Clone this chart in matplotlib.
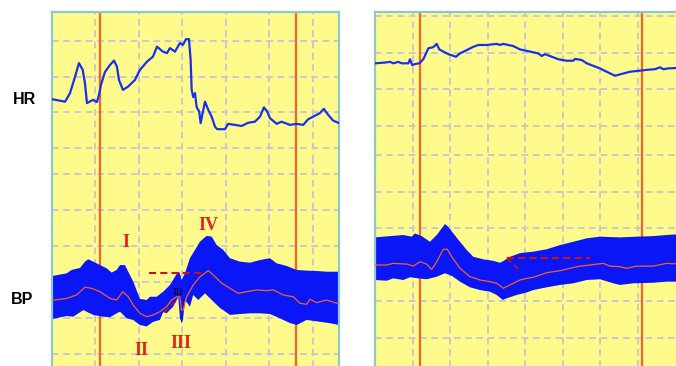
import matplotlib
matplotlib.use("Agg")
import matplotlib.pyplot as plt
import numpy as np

# ---------------- data ----------------
# Left recording (time in s, HR in bpm, BP in mmHg)
hr_left_t = [0, 1.5, 2.07, 2.64, 3.10, 3.53, 3.79, 4.02, 4.71, 5.17, 5.40, 5.63, 6.09, 6.67, 7.13,
             7.47, 7.70, 8.16, 8.74, 9.54, 10.11, 10.92, 11.61, 12.07, 12.76, 13.22, 13.56, 14.14,
             14.71, 15.06, 15.40, 15.75, 15.94, 16.06, 16.24, 16.44, 16.63, 16.93, 17.09, 17.32,
             17.59, 17.97, 18.36, 18.74, 19.00, 19.89, 20.26, 21.03, 21.80, 22.56, 23.33, 23.91,
             24.37, 24.75, 25.06, 25.83, 26.40, 27.36, 28.13, 28.89, 29.46, 30.03, 30.80, 31.26,
             31.76, 32.33, 32.91]
hr_left = [83.7, 83.0, 85.4, 89.9, 93.8, 91.9, 88.2, 82.6, 83.5, 82.9, 84.9, 87.7, 91.3, 93.3, 94.5,
           92.8, 89.1, 86.3, 87.2, 89.1, 91.9, 94.2, 95.6, 98.4, 97.0, 96.6, 98.0, 97.0, 99.4, 98.9,
           100.5, 100.5, 94.7, 86.3, 84.3, 85.4, 81.5, 80.2, 77.0, 79.8, 83.0, 80.7, 78.8, 76.0,
           75.3, 75.3, 76.8, 76.5, 76.2, 77.1, 77.4, 78.8, 81.4, 80.2, 78.4, 76.8, 77.4, 76.5, 76.8,
           76.5, 78.1, 78.8, 79.8, 81.0, 79.3, 77.7, 77.1]

bp_up_left_t = [0, 1.69, 2.26, 3.22, 3.79, 4.17, 4.75, 5.52, 6.29, 6.86, 7.44, 7.82, 8.39, 8.77,
                9.34, 10.11, 10.89, 11.26, 12.03, 12.79, 13.56, 14.33, 14.63, 14.91, 15.29, 15.86,
                16.44, 17.01, 17.78, 18.36, 18.93, 19.69, 20.46, 21.61, 22.76, 23.91, 25.06, 25.83,
                26.98, 28.13, 29.28, 30.43, 31.57, 33.0]
bp_up_left = [83.3, 84.8, 86.7, 87.8, 91.3, 92.6, 91.3, 89.4, 87.6, 85.2, 86.7, 89.4, 89.4, 85.7,
              80.2, 70.6, 70.0, 71.8, 71.8, 74.6, 78.3, 84.4, 85.7, 81.1, 84.8, 93.2, 97.8, 102.4,
              105.6, 105.2, 100.6, 97.8, 93.2, 91.3, 90.7, 92.2, 93.2, 90.4, 88.9, 86.7, 86.3, 86.1,
              85.7, 85.7]

bp_lo_left_t = [0, 1.69, 2.45, 3.60, 4.75, 5.90, 6.67, 7.44, 7.82, 8.59, 9.34, 10.11, 10.89, 11.64,
                12.41, 12.79, 13.18, 13.94, 14.52, 14.71, 14.91, 15.06, 15.29, 15.86, 16.24, 16.82,
                17.59, 18.36, 19.31, 20.46, 21.61, 22.76, 23.91, 25.06, 26.21, 27.36, 28.13, 29.28,
                30.80, 31.95, 33.0]
bp_lo_left = [59.4, 61.1, 60.7, 64.4, 61.7, 60.7, 60.4, 62.6, 63.5, 59.8, 58.9, 56.1, 55.3, 57.9,
              58.9, 63.3, 62.6, 66.3, 71.7, 60.0, 57.1, 58.9, 70.0, 66.3, 72.8, 70.0, 73.7, 70.0,
              65.6, 61.7, 62.2, 62.6, 62.6, 62.2, 59.8, 57.2, 56.1, 58.9, 57.9, 57.1, 56.1]

bp_mean_left_t = [0, 0.34, 1.69, 2.84, 3.79, 4.56, 5.52, 6.67, 7.44, 8.13, 8.77, 9.34, 10.11, 10.89,
                  11.64, 12.41, 13.18, 13.76, 14.33, 14.71, 14.89, 15.09, 15.48, 16.24, 17.01,
                  17.97, 18.54, 19.51, 20.46, 21.41, 22.38, 23.53, 24.68, 25.44, 26.59, 27.74,
                  28.51, 29.28, 29.66, 30.43, 31.57, 32.72, 33.0]
bp_mean_left = [69.4, 70.0, 70.9, 72.8, 77.1, 76.5, 74.6, 70.9, 70.0, 74.6, 71.8, 67.2, 62.6, 60.7,
                61.7, 63.5, 66.3, 70.0, 71.8, 71.7, 64.4, 64.4, 71.8, 78.3, 82.9, 86.3, 83.9, 79.3,
                76.5, 73.7, 74.6, 75.6, 75.2, 75.6, 72.8, 71.8, 68.2, 67.6, 70.4, 68.5, 70.0, 68.2,
                68.5]

# Right recording
hr_right_t = [0, 1.33, 2.0, 2.44, 3.11, 3.56, 4.44, 4.67, 4.97, 5.33, 5.91, 6.44, 6.8, 7.11, 7.77,
              8.23, 8.57, 9.11, 9.77, 10.8, 11.33, 12.23, 13.11, 13.77, 14.89, 16.23, 16.67, 17.11,
              18.44, 19.33, 20.67, 21.77, 22.23, 22.67, 23.56, 24.44, 25.56, 26.44, 26.67, 27.56,
              28.23, 29.11, 30.0, 30.89, 32.0, 32.89, 34.0, 35.33, 36.23, 37.33, 38.0, 38.44, 39.11,
              40.8]
hr_right = [87.1, 87.3, 87.5, 87.1, 87.5, 87.1, 87.1, 88.2, 86.6, 86.9, 87.1, 88.2, 89.8, 91.2, 91.5,
            92.4, 90.9, 90.3, 89.6, 88.9, 89.8, 90.7, 91.6, 92.1, 92.1, 92.4, 92.1, 92.4, 91.8, 90.9,
            90.3, 89.8, 89.1, 89.6, 88.9, 88.2, 87.8, 87.8, 88.3, 88.0, 87.1, 86.4, 85.7, 84.8, 83.7,
            84.2, 84.8, 85.1, 85.3, 85.5, 86.0, 85.5, 85.7, 85.9]

bp_up_right_t = [0, 2.0, 3.77, 4.89, 5.33, 6.23, 7.33, 8.23, 8.89, 9.33, 9.77, 10.44, 11.33, 12.23,
                 13.11, 14.44, 15.77, 16.67, 17.33, 18.0, 19.33, 21.11, 22.89, 24.67, 26.44, 28.23,
                 30.0, 32.67, 34.89, 37.11, 38.89, 40.8]
bp_up_right = [95.0, 95.7, 96.3, 95.4, 97.2, 95.7, 92.6, 96.3, 99.9, 102.3, 100.8, 97.2, 92.6, 88.1,
               84.4, 83.0, 82.2, 81.1, 82.6, 84.4, 86.4, 87.2, 88.5, 90.8, 92.6, 94.5, 95.4, 95.0,
               95.4, 95.7, 96.3, 96.8]

bp_lo_right_t = [0, 1.56, 2.44, 3.77, 4.67, 5.77, 6.89, 8.23, 9.33, 10.27, 11.33, 12.67, 14.0,
                 15.33, 16.23, 17.03, 17.56, 18.89, 20.23, 21.11, 22.89, 24.67, 26.44, 28.23, 30.0,
                 31.77, 32.67, 34.44, 37.11, 38.89, 40.8]
bp_lo_right = [71.7, 71.3, 72.6, 71.7, 73.2, 72.6, 72.1, 73.5, 75.4, 73.9, 70.8, 67.7, 66.2, 65.3,
               63.5, 60.8, 61.7, 63.5, 64.9, 66.2, 67.7, 69.0, 69.9, 71.7, 72.1, 69.9, 69.0, 69.9,
               70.2, 70.8, 70.8]

bp_mean_right_t = [0, 1.56, 2.44, 4.23, 5.11, 6.0, 6.89, 7.56, 8.23, 9.11, 9.64, 10.23, 11.33, 12.67,
                   14.0, 15.33, 16.23, 17.11, 18.0, 19.33, 20.23, 21.11, 22.89, 24.67, 26.0, 27.33,
                   28.67, 30.44, 31.33, 32.67, 33.56, 34.89, 37.11, 38.89, 40.8]
bp_mean_right = [79.9, 79.9, 80.8, 80.4, 79.3, 81.7, 80.4, 77.5, 81.7, 88.5, 88.5, 84.4, 78.1, 73.5,
                 71.7, 70.8, 69.9, 67.2, 69.0, 71.7, 72.6, 73.2, 75.7, 76.8, 78.1, 79.3, 79.9, 80.8,
                 79.3, 79.0, 78.1, 79.3, 79.3, 80.8, 80.4]

# Maneuver start / end markers (s)
markers_left = [5.52, 28.05]
markers_right = [6.0, 35.6]

# Reference levels used for the dashed guides (mmHg)
plateau_left = 84.8
plateau_right = 83.7

phase_labels = ["I", "II", "III", "IV"]

# ---------------- style ----------------
YELLOW = "#fffa8c"
GRID = "#c9c9cd"
BORDER = "#8cc8cc"
ORANGE = "#f5622a"
BLUE = "#0a16f6"
HR_BLUE = "#1730ee"
MEAN = "#f2602c"
DARKRED = "#c41414"

fig = plt.figure(figsize=(6.76, 3.66), dpi=100)
W, H = 676.0, 366.0


def fx(px):
    return px / W


def fy(py):
    return (H - py) / H


def style_axes(ax, tmax, tgrid, ygrid, ylim):
    ax.set_facecolor(YELLOW)
    ax.set_xlim(0, tmax)
    ax.set_ylim(*ylim)
    ax.set_xticks(tgrid)
    ax.set_yticks(ygrid)
    ax.tick_params(length=0, labelbottom=False, labelleft=False)
    ax.grid(True, color=GRID, linestyle=(0, (3.4, 2.4)), linewidth=1.4)
    ax.set_axisbelow(True)
    for s in ax.spines.values():
        s.set_color(BORDER)
        s.set_linewidth(1.6)


def panel(x0, x1, split, tmax, hr_lim, bp_lim, markers):
    top, bottom = 12, 372
    ax_hr = fig.add_axes([fx(x0), fy(split), fx(x1 - x0), fy(top) - fy(split)])
    ax_bp = fig.add_axes([fx(x0), fy(bottom), fx(x1 - x0), fy(split) - fy(bottom)])
    tgrid = np.arange(5, tmax - 1, 5)
    style_axes(ax_hr, tmax, tgrid, [70, 80, 90, 100], hr_lim)
    style_axes(ax_bp, tmax, tgrid, [40, 60, 80, 100, 120, 140], bp_lim)
    ax_hr.spines["bottom"].set_visible(False)
    ax_bp.spines["top"].set_visible(False)
    for ax in (ax_hr, ax_bp):
        for m in markers:
            ax.axvline(m, color=ORANGE, linewidth=1.6, zorder=1.5)
    return ax_hr, ax_bp


def draw_bp(ax, up_t, up, lo_t, lo, mean_t, mean):
    ax.fill(np.r_[up_t, lo_t[::-1]], np.r_[up, lo[::-1]], color=BLUE, lw=0, zorder=2)
    ax.plot(mean_t, mean, color=MEAN, linewidth=0.9, zorder=3)


# Left panel
hrL, bpL = panel(52, 339, 161, 33.0, (66.4, 108.1), (30.0, 147.2), markers_left)
hrL.plot(hr_left_t, hr_left, color=HR_BLUE, linewidth=1.6, zorder=3)
draw_bp(bpL, bp_up_left_t, bp_up_left, bp_lo_left_t, bp_lo_left, bp_mean_left_t, bp_mean_left)
dash = (0, (3.4, 2.0))
bpL.plot([11.15, 17.6], [plateau_left, plateau_left], color=DARKRED, lw=1.5, ls=dash, zorder=4)
bpL.plot([12.9, 14.5], [63.3, 70.5], color=DARKRED, lw=1.3, ls=dash, zorder=4)

label_pos = [(8.51, 99.6), (10.31, 39.4), (14.79, 43.2), (17.93, 108.9)]
for txt, (tx, ty) in zip(phase_labels, label_pos):
    bpL.text(tx, ty, txt, color="#e81e1e", fontsize=13, fontweight="bold",
             family="Liberation Serif", ha="center", va="baseline", zorder=5)
bpL.text(14.48, 72.8, "IIl", color="black", fontsize=8, family="Liberation Serif",
         ha="center", va="baseline", zorder=5)

# Right panel
hrR, bpR = panel(375, 681, 141, 40.8, (65.9, 101.1), (21.4, 147.7), markers_right)
hrR.plot(hr_right_t, hr_right, color=HR_BLUE, linewidth=1.6, zorder=3)
draw_bp(bpR, bp_up_right_t, bp_up_right, bp_lo_right_t, bp_lo_right, bp_mean_right_t, bp_mean_right)
bpR.plot([17.6, 28.7], [plateau_right, plateau_right], color=DARKRED, lw=1.5, ls=dash, zorder=4)
bpR.plot([17.6, 19.5], [plateau_right, 76.1], color=DARKRED, lw=1.3, ls=dash, zorder=4)

# Row labels
fig.text(fx(24), fy(100), "HR", fontsize=11.5, fontweight="bold", family="Liberation Sans",
         ha="center", va="center")
fig.text(fx(22), fy(299), "BP", fontsize=11.5, fontweight="bold", family="Liberation Sans",
         ha="center", va="center")

fig.savefig("out.png", dpi=100, facecolor="white")
